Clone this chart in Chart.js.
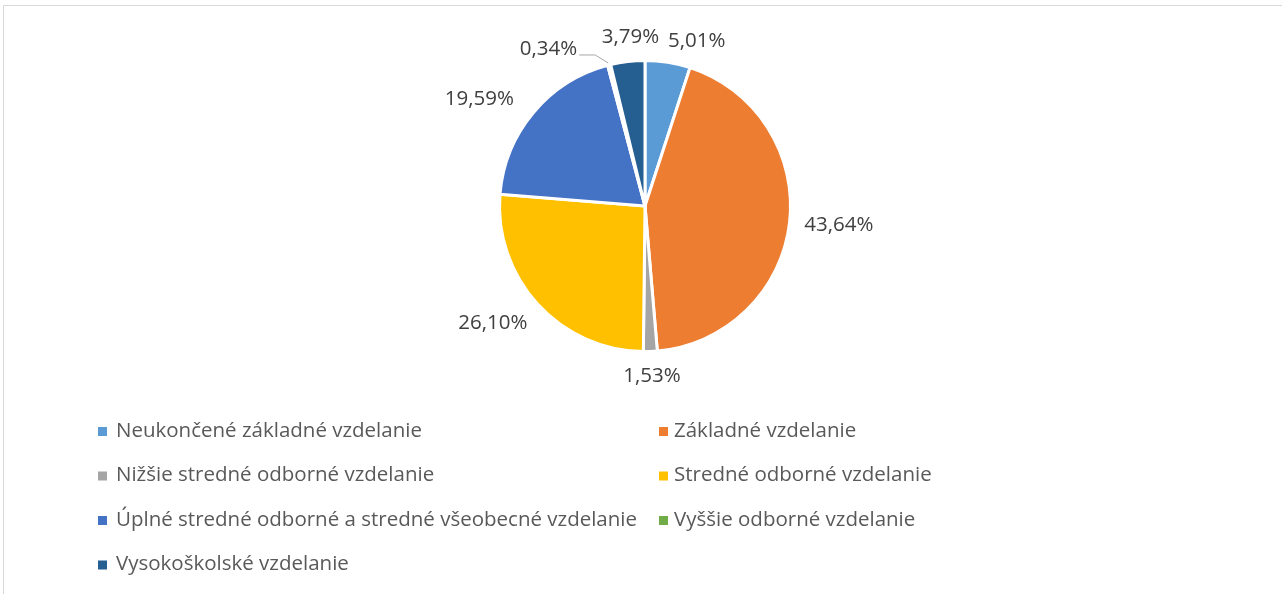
<!doctype html>
<html lang="sk">
  <head>
    <meta charset="UTF-8" />
    <title>Vzdelanie</title>
    <script src="https://cdn.jsdelivr.net/npm/chart.js"></script>
    <style>
      html, body {
        margin: 0;
        padding: 0;
        background: #ffffff;
        overflow: hidden;
      }

      .frame {
        position: absolute;
        left: 3px;
        top: 5px;
        width: 1300px;
        height: 620px;
        border-left: 1px solid #d9d9d9;
        border-top: 1px solid #d9d9d9;
      }

      .chart-box {
        position: absolute;
        left: 0;
        top: 0;
        width: 1282px;
        height: 594px;
      }
    </style>
  </head>
  <body>
    <div class="frame"></div>
    <div class="chart-box">
      <canvas id="eduChart"></canvas>
    </div>

    <script>
      // data
      const categories = [
        "Neukončené základné vzdelanie",
        "Základné vzdelanie",
        "Nižšie stredné odborné vzdelanie",
        "Stredné odborné vzdelanie",
        "Úplné stredné odborné a stredné všeobecné vzdelanie",
        "Vyššie odborné vzdelanie",
        "Vysokoškolské vzdelanie"
      ];
      const shares = [5.01, 43.64, 1.53, 26.10, 19.59, 0.34, 3.79];
      const sliceColors = ["#5B9BD5", "#ED7D31", "#A5A5A5", "#FFC000", "#4472C4", "#70AD47", "#255E91"];

      const FONT = "'Open Sans', sans-serif";

      function fmt(v) {
        return v.toFixed(2).replace(".", ",") + "%";
      }

      // value labels outside the pie, Excel style
      const labelNudge = { 0: [22, 4], 3: [-8, 2], 4: [-16, 2], 6: [8, 0] };
      const outsideLabels = {
        id: "outsideLabels",
        afterDatasetsDraw(chart) {
          const ctx = chart.ctx;
          const arcs = chart.getDatasetMeta(0).data;
          ctx.save();
          ctx.font = "20.5px " + FONT;
          ctx.fillStyle = "#404040";
          ctx.textAlign = "center";
          ctx.textBaseline = "middle";
          arcs.forEach((arc, i) => {
            const text = fmt(shares[i]);
            const mid = (arc.startAngle + arc.endAngle) / 2;
            const r = arc.outerRadius;
            const dx = Math.cos(mid), dy = Math.sin(mid);
            const w = ctx.measureText(text).width;
            if (i === 5) {
              // tiny slice: label moved left with a leader line
              const ex = arc.x + dx * r, ey = arc.y + dy * r;
              ctx.strokeStyle = "#a6a6a6";
              ctx.lineWidth = 1;
              ctx.beginPath();
              ctx.moveTo(ex - 1, ey - 2);
              ctx.lineTo(ex - 14, ey - 10);
              ctx.lineTo(ex - 30, ey - 10);
              ctx.stroke();
              ctx.fillText(text, ex - 32 - w / 2, ey - 16);
              return;
            }
            const a = r + 15;
            let cx = arc.x + dx * a + dx * (w / 2);
            let cy = arc.y + dy * a + dy * 10;
            const n = labelNudge[i];
            if (n) { cx += n[0]; cy += n[1]; }
            ctx.fillText(text, cx, cy);
          });
          ctx.restore();
        }
      };

      // two-column legend under the pie
      const gridLegend = {
        id: "gridLegend",
        afterDraw(chart) {
          const ctx = chart.ctx;
          const boxX = [98, 659];
          const textX = [116, 674];
          const rowY0 = 431, rowStep = 44.5;
          ctx.save();
          ctx.font = "20.5px " + FONT;
          ctx.textBaseline = "middle";
          ctx.textAlign = "left";
          categories.forEach((name, i) => {
            const col = i % 2;
            const y = rowY0 + Math.floor(i / 2) * rowStep;
            ctx.fillStyle = sliceColors[i];
            ctx.fillRect(boxX[col], y - 4, 9, 9);
            ctx.fillStyle = "#595959";
            ctx.fillText(name, textX[col], y);
          });
          ctx.restore();
        }
      };

      const ctx = document.getElementById("eduChart").getContext("2d");
      const eduChart = new Chart(ctx, {
        type: "pie",
        data: {
          labels: categories,
          datasets: [
            {
              data: shares,
              backgroundColor: sliceColors,
              borderColor: "#ffffff",
              borderWidth: 3,
              hoverOffset: 0
            }
          ]
        },
        options: {
          responsive: true,
          maintainAspectRatio: false,
          animation: false,
          layout: {
            padding: { top: 59, bottom: 241, left: 8, right: 0 }
          },
          plugins: {
            legend: { display: false },
            tooltip: { enabled: false }
          }
        },
        plugins: [outsideLabels, gridLegend]
      });
    </script>
  </body>
</html>
